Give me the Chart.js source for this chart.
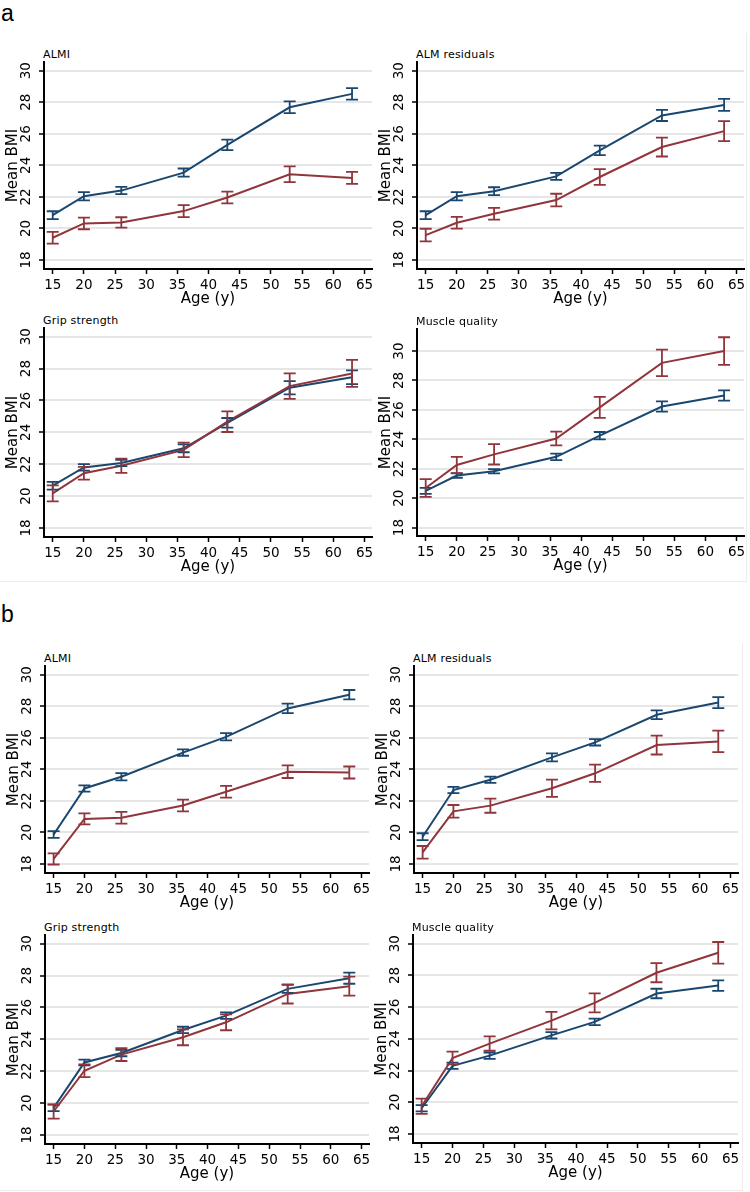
<!DOCTYPE html>
<html>
<head>
<meta charset="utf-8">
<script src="https://cdn.jsdelivr.net/npm/chart.js@4.4.0/dist/chart.umd.min.js"></script>
<style>
    body { margin: 0; background: #fff; width: 750px; height: 1192px; position: relative; overflow: hidden; font-family: "DejaVu Sans", sans-serif; }
    .panel-label { position: absolute; font-family: "Liberation Sans", Arial, sans-serif; font-size: 23px; line-height: 1; color: #000; }
    .sub-title { position: absolute; font-size: 11px; line-height: 11px; color: #000; white-space: nowrap; letter-spacing: 0.2px; }
    .plot { position: absolute; }
    .frame { position: absolute; border-right: 1px solid #ececec; border-bottom: 1px solid #ececec; }
</style>
</head>
<body>
<div class="frame" style="left:-2px; top:33px; width:748px; height:548px;"></div>
<div class="frame" style="left:-2px; top:643px; width:744px; height:547px;"></div>
<div class="panel-label" style="left:1px; top:2px;">a</div>
<div class="panel-label" style="left:1px; top:603px;">b</div>
<script>
const ages = [15, 20, 26, 36, 43, 53, 63];
const xTicks = [15, 20, 25, 30, 35, 40, 45, 50, 55, 60, 65];
const yTicks = [18, 20, 22, 24, 26, 28, 30];
const subTitles = ['ALMI', 'ALM residuals', 'Grip strength', 'Muscle quality'];

// panel a
const aAlmiBlue = [20.84, 22.04, 22.4, 23.54, 25.3, 27.68, 28.53];
const aAlmiBlueCi = [0.25, 0.26, 0.23, 0.26, 0.33, 0.37, 0.37];
const aAlmiRed = [19.41, 20.32, 20.38, 21.1, 21.96, 23.43, 23.2];
const aAlmiRedCi = [0.37, 0.37, 0.33, 0.38, 0.37, 0.5, 0.38];

const aResBlue = [20.84, 22.04, 22.36, 23.3, 24.95, 27.16, 27.83];
const aResBlueCi = [0.25, 0.26, 0.25, 0.22, 0.3, 0.35, 0.38];
const aResRed = [19.58, 20.36, 20.93, 21.8, 23.26, 25.16, 26.17];
const aResRedCi = [0.4, 0.37, 0.37, 0.4, 0.5, 0.6, 0.63];

const aGripBlue = [20.65, 21.8, 22.08, 23.0, 24.6, 26.8, 27.46];
const aGripBlueCi = [0.24, 0.2, 0.2, 0.25, 0.3, 0.42, 0.43];
const aGripRed = [20.17, 21.43, 21.9, 22.9, 24.67, 26.9, 27.7];
const aGripRedCi = [0.5, 0.4, 0.45, 0.45, 0.65, 0.8, 0.85];

const aMqBlue = [20.5, 21.54, 21.83, 22.81, 24.25, 26.23, 26.98];
const aMqBlueCi = [0.2, 0.15, 0.15, 0.22, 0.25, 0.35, 0.35];
const aMqRed = [20.69, 22.26, 22.98, 24.06, 26.17, 29.2, 30.0];
const aMqRedCi = [0.6, 0.55, 0.69, 0.47, 0.71, 0.9, 0.94];

// panel b
const bAlmiBlue = [19.87, 22.79, 23.53, 25.06, 26.06, 27.86, 28.73];
const bAlmiBlueCi = [0.22, 0.2, 0.23, 0.2, 0.23, 0.3, 0.3];
const bAlmiRed = [18.32, 20.86, 20.93, 21.71, 22.58, 23.85, 23.8];
const bAlmiRedCi = [0.35, 0.35, 0.37, 0.37, 0.37, 0.4, 0.38];

const bResBlue = [19.73, 22.69, 23.34, 24.76, 25.71, 27.46, 28.23];
const bResBlueCi = [0.22, 0.2, 0.2, 0.25, 0.2, 0.28, 0.35];
const bResRed = [18.74, 21.34, 21.7, 22.8, 23.75, 25.54, 25.77];
const bResRedCi = [0.4, 0.4, 0.45, 0.55, 0.55, 0.6, 0.68];

const bGripBlue = [19.7, 22.55, 23.14, 24.59, 25.49, 27.17, 27.84];
const bGripBlueCi = [0.2, 0.18, 0.2, 0.2, 0.2, 0.25, 0.35];
const bGripRed = [19.47, 22.03, 23.04, 24.13, 25.07, 26.85, 27.34];
const bGripRedCi = [0.45, 0.4, 0.4, 0.5, 0.5, 0.6, 0.6];

const bMqBlue = [19.62, 22.3, 22.94, 24.22, 25.07, 26.86, 27.36];
const bMqBlueCi = [0.2, 0.2, 0.2, 0.2, 0.2, 0.3, 0.33];
const bMqRed = [19.75, 22.79, 23.7, 25.15, 26.27, 28.17, 29.43];
const bMqRedCi = [0.48, 0.4, 0.45, 0.55, 0.6, 0.6, 0.68];

const BLUE = '#1a476f';
const RED = '#90353b';
const FONT = '"DejaVu Sans", Verdana, sans-serif';
const X_MIN = 13.6, X_MAX = 66.2;
const Y_MIN = 17.43;
const Y_W = 44, X_H = 42, PAD_T = 4, PAD_R = 6;

// box = [left, top, right, bottom] of the plot region in page pixels
const plots = [
    { title: subTitles[0], blue: aAlmiBlue, blueCi: aAlmiBlueCi, red: aAlmiRed, redCi: aAlmiRedCi, box: [44, 62, 372, 269], yMax: 30.55 },
    { title: subTitles[1], blue: aResBlue, blueCi: aResBlueCi, red: aResRed, redCi: aResRedCi, box: [417, 62, 744, 269], yMax: 30.55 },
    { title: subTitles[2], blue: aGripBlue, blueCi: aGripBlueCi, red: aGripRed, redCi: aGripRedCi, box: [44, 328, 372, 537], yMax: 30.55 },
    { title: subTitles[3], blue: aMqBlue, blueCi: aMqBlueCi, red: aMqRed, redCi: aMqRedCi, box: [417, 329, 744, 536], yMax: 31.5 },
    { title: subTitles[0], blue: bAlmiBlue, blueCi: bAlmiBlueCi, red: bAlmiRed, redCi: bAlmiRedCi, box: [45, 666, 369, 873], yMax: 30.55 },
    { title: subTitles[1], blue: bResBlue, blueCi: bResBlueCi, red: bResRed, redCi: bResRedCi, box: [414, 666, 738, 873], yMax: 30.55 },
    { title: subTitles[2], blue: bGripBlue, blueCi: bGripBlueCi, red: bGripRed, redCi: bGripRedCi, box: [45, 935, 369, 1144], yMax: 30.55 },
    { title: subTitles[3], blue: bMqBlue, blueCi: bMqBlueCi, red: bMqRed, redCi: bMqRedCi, box: [413, 935, 738, 1143], yMax: 30.55 }
];

// draws the CI caps for every dataset, blue first so red sits on top
const errorBars = {
    id: 'errorBars',
    afterDatasetsDraw(chart) {
        const { ctx, scales: { x, y } } = chart;
        ctx.save();
        ctx.lineWidth = 1.8;
        chart.data.datasets.slice().reverse().forEach(ds => {
            ctx.strokeStyle = ds.borderColor;
            ds.data.forEach((pt, i) => {
                const px = x.getPixelForValue(pt.x);
                const top = y.getPixelForValue(pt.y + ds.ci[i]);
                const bot = y.getPixelForValue(pt.y - ds.ci[i]);
                ctx.beginPath();
                ctx.moveTo(px, top);
                ctx.lineTo(px, bot);
                ctx.moveTo(px - 6, top);
                ctx.lineTo(px + 6, top);
                ctx.moveTo(px - 6, bot);
                ctx.lineTo(px + 6, bot);
                ctx.stroke();
            });
        });
        ctx.restore();
    }
};

function toPoints(values) {
    return ages.map((a, i) => ({ x: a, y: values[i] }));
}

plots.forEach(p => {
    const [L, T, R, B] = p.box;

    const title = document.createElement('div');
    title.className = 'sub-title';
    title.style.left = (L - 1) + 'px';
    title.style.top = (T - 13) + 'px';
    title.textContent = p.title;
    document.body.appendChild(title);

    const wrap = document.createElement('div');
    wrap.className = 'plot';
    wrap.style.left = (L - Y_W) + 'px';
    wrap.style.top = (T - PAD_T) + 'px';
    wrap.style.width = (R - L + Y_W + PAD_R) + 'px';
    wrap.style.height = (B - T + PAD_T + X_H) + 'px';
    const canvas = document.createElement('canvas');
    wrap.appendChild(canvas);
    document.body.appendChild(wrap);

    new Chart(canvas, {
        type: 'line',
        data: {
            datasets: [
                { label: 'red', data: toPoints(p.red), ci: p.redCi, borderColor: RED, backgroundColor: RED },
                { label: 'blue', data: toPoints(p.blue), ci: p.blueCi, borderColor: BLUE, backgroundColor: BLUE }
            ]
        },
        options: {
            responsive: true,
            maintainAspectRatio: false,
            animation: false,
            layout: { padding: { top: PAD_T, right: PAD_R, left: 0, bottom: 0 } },
            elements: {
                point: { radius: 0 },
                line: { tension: 0, borderWidth: 2 }
            },
            plugins: {
                legend: { display: false },
                tooltip: { enabled: false }
            },
            scales: {
                x: {
                    type: 'linear',
                    min: X_MIN,
                    max: X_MAX,
                    afterBuildTicks: s => { s.ticks = xTicks.map(v => ({ value: v })); },
                    afterFit: s => { s.height = X_H; s.paddingLeft = 0; s.paddingRight = 0; },
                    grid: { drawOnChartArea: false, drawTicks: true, tickLength: 5, tickColor: '#000', tickWidth: 1.5 },
                    border: { display: true, color: '#000', width: 2 },
                    ticks: { color: '#000', font: { family: FONT, size: 13.5 }, padding: 3, maxRotation: 0, autoSkip: false },
                    title: { display: true, text: 'Age (y)', color: '#000', font: { family: FONT, size: 15 }, padding: { top: 0, bottom: 3 } }
                },
                y: {
                    type: 'linear',
                    min: Y_MIN,
                    max: p.yMax,
                    afterBuildTicks: s => { s.ticks = yTicks.map(v => ({ value: v })); },
                    afterFit: s => { s.width = Y_W; s.paddingTop = 0; s.paddingBottom = 0; },
                    grid: { color: '#e6e6e6', lineWidth: 2, drawTicks: true, tickLength: 5, tickColor: '#000', tickWidth: 1.5 },
                    border: { display: true, color: '#000', width: 2 },
                    ticks: { color: '#000', font: { family: FONT, size: 13.5 }, padding: 4, minRotation: 90, maxRotation: 90, crossAlign: 'center', autoSkip: false },
                    title: { display: true, text: 'Mean BMI', color: '#000', font: { family: FONT, size: 15 }, padding: { top: 4, bottom: 0 } }
                }
            }
        },
        plugins: [errorBars]
    });
});
</script>
</body>
</html>
